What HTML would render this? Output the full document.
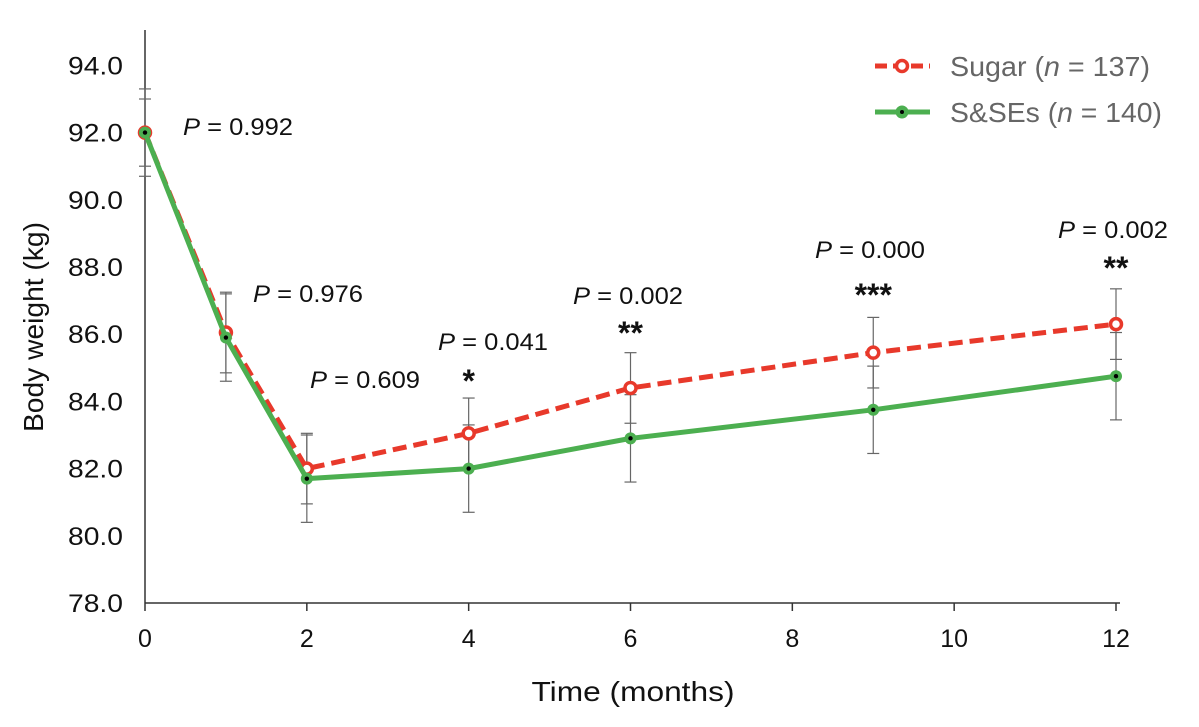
<!DOCTYPE html>
<html><head><meta charset="utf-8"><style>
body{margin:0;background:#fff;width:1199px;height:722px;overflow:hidden}
svg text{font-family:"Liberation Sans",sans-serif}
</style></head><body>
<svg id="chart" width="1199" height="722">
<g id="axes"></g><g id="marks"></g>
<g>
 <g>
  <line x1="875" y1="66" x2="930" y2="66" stroke="#e8392b" stroke-width="5" stroke-dasharray="12,6"/>
  <circle cx="902" cy="66" r="5.5" fill="#fff" stroke="#e8392b" stroke-width="3.5"/>
  <text x="950" y="76" font-size="28" fill="#666" textLength="200" lengthAdjust="spacingAndGlyphs">Sugar (<tspan font-style="italic">n</tspan> = 137)</text>
 </g>
 <g>
  <line x1="875" y1="112" x2="930" y2="112" stroke="#4caf50" stroke-width="5"/>
  <circle cx="902" cy="112" r="5.5" fill="#4caf50" stroke="#4caf50" stroke-width="2"/>
  <circle cx="902" cy="112" r="2" fill="#000"/>
  <text x="950" y="122" font-size="28" fill="#666" textLength="212" lengthAdjust="spacingAndGlyphs">S&amp;SEs (<tspan font-style="italic">n</tspan> = 140)</text>
 </g>
</g>
</svg>
<script>
const months=[0,1,2,4,6,9,12];
const sugar=[92.0,86.05,82.0,83.05,84.4,85.45,86.3];
const sweet=[92.0,85.9,81.7,82.0,82.9,83.75,84.75];
const sugarErr=[1.3,1.2,1.05,1.05,1.05,1.05,1.05];
const sweetErr=[1.0,1.3,1.3,1.3,1.3,1.3,1.3];
const pLabels=["0.992","0.976","0.609","0.041","0.002","0.000","0.002"];
const stars=["","","","*","**","***","**"];
const xTicks=[0,2,4,6,8,10,12];
const yTicks=[78,80,82,84,86,88,90,92,94];
const X=m=>145+m*(1116-145)/12;
const Y=v=>603-(v-78)*33.6;
const NS="http://www.w3.org/2000/svg";
function mk(p,t,a){const e=document.createElementNS(NS,t);for(const k in a)e.setAttribute(k,a[k]);p.appendChild(e);return e;}
const ax=document.getElementById('axes'),mr=document.getElementById('marks');
let e=mk(ax,'line',{x1:145,y1:30,x2:145,y2:603,stroke:'#333','stroke-width':1.5});


e=mk(ax,'line',{x1:145,y1:603,x2:1120,y2:603,stroke:'#333','stroke-width':1.5});


yTicks.forEach(v=>{const t=mk(ax,'text',{x:123,y:Y(v)+9,'text-anchor':'end','font-size':25,fill:'#111',textLength:55,lengthAdjust:'spacingAndGlyphs'});t.textContent=v.toFixed(1);

});
xTicks.forEach(v=>{mk(ax,'line',{x1:X(v),y1:603,x2:X(v),y2:611,stroke:'#333','stroke-width':1.5});
const t=mk(ax,'text',{x:X(v),y:647,'text-anchor':'middle','font-size':25,fill:'#111'});t.textContent=v;

});
e=mk(ax,'text',{x:0,y:0,transform:'translate(43,327) rotate(-90)','text-anchor':'middle','font-size':28,fill:'#111',textLength:210,lengthAdjust:'spacingAndGlyphs'});e.textContent='Body weight (kg)';


e=mk(ax,'text',{x:633,y:701,'text-anchor':'middle','font-size':28,fill:'#111',textLength:203,lengthAdjust:'spacingAndGlyphs'});e.textContent='Time (months)';


function err(vals,errs){months.forEach((m,i)=>{const x=X(m),t=Y(vals[i]+errs[i]),b=Y(vals[i]-errs[i]);
const g=mk(mr,'g',{stroke:'#666','stroke-width':1.2});


mk(g,'line',{x1:x,y1:t,x2:x,y2:b});mk(g,'line',{x1:x-6,y1:t,x2:x+6,y2:t});mk(g,'line',{x1:x-6,y1:b,x2:x+6,y2:b});});}
err(sugar,sugarErr);err(sweet,sweetErr);
const pts=v=>months.map((m,i)=>X(m)+','+Y(v[i])).join(' ');
e=mk(mr,'polyline',{points:pts(sugar),fill:'none',stroke:'#e8392b','stroke-width':5,'stroke-dasharray':'14,7'});


months.forEach((m,i)=>{const c=mk(mr,'circle',{cx:X(m),cy:Y(sugar[i]),r:5.5,fill:'#fff',stroke:'#e8392b','stroke-width':3.5});

});
e=mk(mr,'polyline',{points:pts(sweet),fill:'none',stroke:'#4caf50','stroke-width':5});


months.forEach((m,i)=>{const c=mk(mr,'circle',{cx:X(m),cy:Y(sweet[i]),r:6,fill:'#4caf50'});


mk(mr,'circle',{cx:X(m),cy:Y(sweet[i]),r:2.2,fill:'#000'});});
const pPos=[[183,135],[253,302],[310,388],[438,350],[573,304],[815,258],[1058,238]];
const starY=[0,0,0,392,344,306,279];
pLabels.forEach((p,i)=>{const t=mk(mr,'text',{x:pPos[i][0],y:pPos[i][1],'font-size':24,fill:'#111',textLength:110,lengthAdjust:'spacingAndGlyphs'});
t.innerHTML='<tspan font-style="italic">P</tspan> = '+p;


if(stars[i]){const s=mk(mr,'text',{x:X(months[i]),y:starY[i],'text-anchor':'middle','font-size':32,'font-weight':'bold',fill:'#111'});s.textContent=stars[i];

}});
</script>
</body></html>
